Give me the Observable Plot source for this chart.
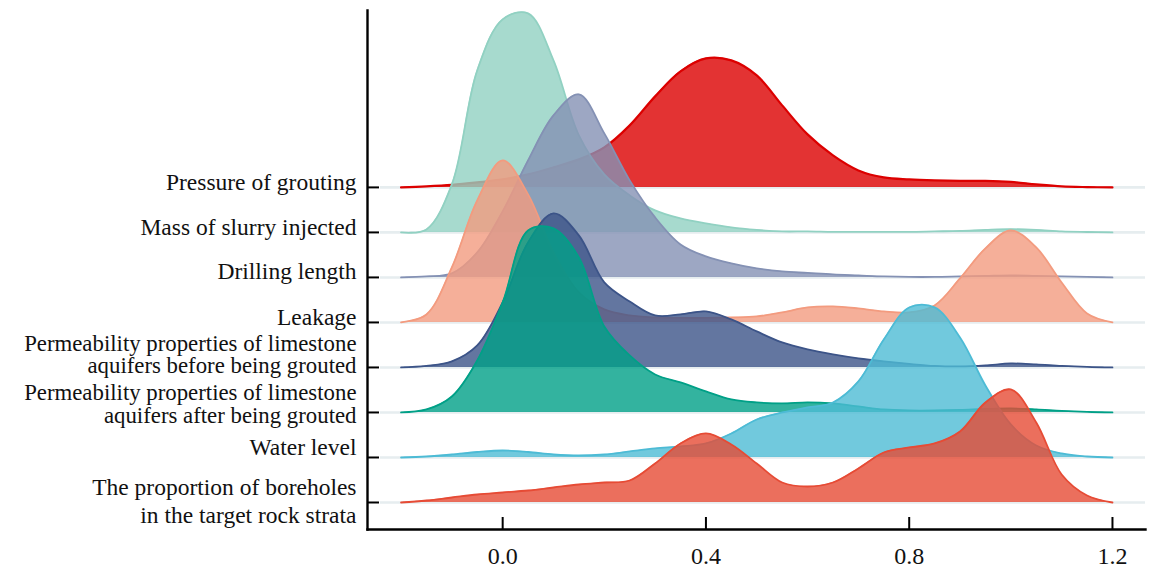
<!DOCTYPE html>
<html><head><meta charset="utf-8">
<script src="https://cdn.jsdelivr.net/npm/d3@7"></script>
<script src="https://cdn.jsdelivr.net/npm/@observablehq/plot@0.6"></script>
<style>html,body{margin:0;padding:0;background:#fff}</style>
</head><body><div id="chart"></div>
<script>
// Categories (top to bottom)
const categories = ["Pressure of grouting","Mass of slurry injected","Drilling length","Leakage",
  "Permeability before","Permeability after","Water level","Proportion of boreholes"];
const labels = ["Pressure of grouting","Mass of slurry injected","Drilling length","Leakage",
  "Permeability properties of limestone\naquifers before being grouted",
  "Permeability properties of limestone\naquifers after being grouted",
  "Water level",
  "The proportion of boreholes\nin the target rock strata"];
// Evaluation grid of the density curves
const xGrid = [-0.2,-0.15,-0.1,-0.05,0,0.05,0.1,0.15,0.2,0.25,0.3,0.35,0.4,0.45,0.5,0.55,0.6,0.65,0.7,0.75,0.8,0.85,0.9,0.95,1,1.05,1.1,1.15,1.2];
// Relative density heights
const pressure = [0,1,2.5,5,8,13,20,28,40,62,91,116,129,127,112,82,53,32,17,10,8,7,6.5,6.5,5.5,3,1,0.3,0];
const mass     = [0,3,48,162,213,219,172,97,58,37,22,14,9,5,2.5,1,1,0.5,0.5,0.5,0.5,1,1.5,2.5,3.2,2.5,1,0.4,0];
const drilling = [0,1,4,25,66,117,162,183,144,97,60,33,21,14,9,6,4.5,3,2,1,0.5,0.5,1,1.5,2,1.5,1,0.5,0];
const leakage  = [0,8,55,122,162,128,70,30,13,7,5,4.5,4.5,5,6,10,15,16,14,11,10,17,44,74,92,75,40,9,0];
const before   = [0,1.5,6,22,65,125,154,132,85,66,52,53,56,48,36,25,18,13,9,6,3.5,1.5,1,2,4,3,1.5,0.5,0];
const after    = [0,3,16,52,110,182,184,155,86,57,38,30,21,13,10,9,10,9,6,3,2,2,2.5,3.5,4,3,1.5,0.5,0];
const water    = [0,1,3,5.5,7,5.5,3,2,3,6,9,11,14,24,38,45,50,55,76,118,150,150,120,72,33,12,4,1,0];
const proportion = [0,2,5,8,10,12,15,18,20,22,39,59,69,58,39,20,16,20,34,50,55,59,71,100,113,80,28,7,0];
const xTicks = [0, 0.4, 0.8, 1.2];
const colors = ["#DC0000","#91D1C2","#8491B4","#F39B7F","#3C5488","#00A087","#4DBBD5","#E64B35"];

const series = [pressure, mass, drilling, leakage, before, after, water, proportion];
const K = 1/45; // density -> row units
const n = categories.length;
const table = [];
series.forEach((vals, i) => {
  vals.forEach((v, j) => table.push({i, cat: categories[i], pos: n - 1 - i, x: xGrid[j], top: n - 1 - i + v * K}));
});
const rows = categories.map((c, i) => ({i, label: labels[i], pos: n - 1 - i}));

const font = "Liberation Serif, Times New Roman, serif";
const labelStyle = [
  {dy: 2.5, lh: 1, fs: 23.5}, {dy: 2.5, lh: 1, fs: 23.5}, {dy: 2, lh: 1, fs: 23.5}, {dy: 3, lh: 1, fs: 23.5},
  {dy: 6, lh: 1.0, fs: 22.8}, {dy: 10.5, lh: 1.0, fs: 22.8}, {dy: -2, lh: 1, fs: 23.5}, {dy: 21, lh: 1.23, fs: 23.5}
];

const marks = [
  Plot.ruleY(rows, {y: "pos", stroke: "#e6edef", strokeWidth: 2.6, insetLeft: 13})
];
series.forEach((_, i) => {
  const d = table.filter(r => r.i === i);
  marks.push(Plot.areaY(d, {x: "x", y1: "pos", y2: "top", fill: colors[i], fillOpacity: 0.8, curve: "catmull-rom"}));
  marks.push(Plot.lineY(d, {x: "x", y: "top", stroke: colors[i], strokeWidth: i === 0 ? 2.2 : 1.8, curve: "catmull-rom"}));
});
marks.push(
  Plot.frame({anchor: "left", stroke: "#000", strokeWidth: 2.4}),
  Plot.frame({anchor: "bottom", stroke: "#000", strokeWidth: 2.4}),
  Plot.tickY(rows, {y: "pos", stroke: "#000", strokeWidth: 2, insetRight: 766}),
  Plot.tickX(xTicks, {x: d => d, stroke: "#000", strokeWidth: 2, insetTop: 507}),
  Plot.text(xTicks, {x: d => d, text: d => d3.format(".1f")(d), frameAnchor: "bottom", lineAnchor: "top", dy: 17,
    fontSize: 24, fontFamily: font, fill: "#111"})
);
rows.forEach((r, i) => {
  marks.push(Plot.text([r], {y: "pos", text: "label", frameAnchor: "left", textAnchor: "end", lineAnchor: "bottom",
    dx: -11, dy: labelStyle[i].dy, lineHeight: labelStyle[i].lh, fontSize: labelStyle[i].fs, fontFamily: font, fill: "#111"}));
});

const chart = Plot.plot({
  width: 1153, height: 570,
  marginLeft: 367, marginRight: 8, marginTop: 10, marginBottom: 41,
  x: {domain: [-0.266, 1.265], axis: null},
  y: {domain: [-0.6, 10.93], axis: null},
  style: {background: "#fff", fontFamily: font},
  marks
});
document.getElementById("chart").appendChild(chart);
</script>
</body></html>
